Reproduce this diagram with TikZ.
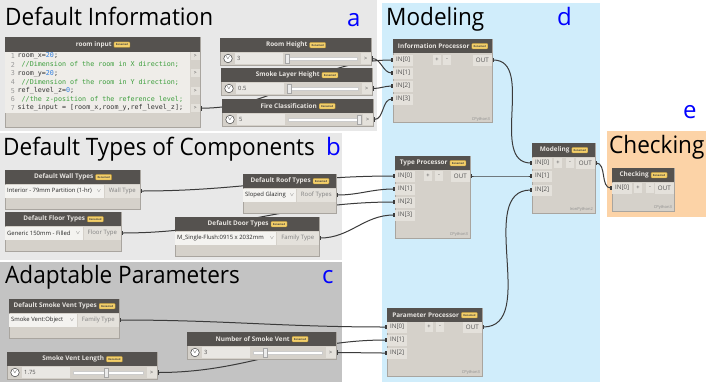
\documentclass[tikz,border=0pt]{standalone}
\usepackage{fontspec}
\setmainfont{Open Sans}
\newfontfamily\codefont{DejaVu Sans Mono}
\newfontfamily\grpfont[FakeStretch=0.94]{Open Sans}
\usetikzlibrary{positioning,arrows.meta}

\definecolor{grpgray}{HTML}{E8E8E8}
\definecolor{grpdark}{HTML}{C3C3C3}
\definecolor{grpblue}{HTML}{D0EDFB}
\definecolor{grporange}{HTML}{FCD3A7}
\definecolor{nodehead}{HTML}{55524F}
\definecolor{nodebody}{HTML}{D5D1CA}
\definecolor{nodeedge}{HTML}{A9A59F}
\definecolor{headtxt}{HTML}{E8E5E1}
\definecolor{portbg}{HTML}{E4E1DB}
\definecolor{rowbg}{HTML}{E9E7E3}
\definecolor{selbg}{HTML}{F4F3F0}
\definecolor{codebg}{HTML}{EFEDE9}
\definecolor{porttxt}{HTML}{505050}
\definecolor{badge}{HTML}{F3CF6A}
\definecolor{badgeedge}{HTML}{B08A2C}
\definecolor{wirecol}{HTML}{3B3B3B}
\definecolor{codegreen}{HTML}{3C9E3C}
\definecolor{codeblue}{HTML}{2F7FE0}

\pgfdeclarelayer{groups}
\pgfdeclarelayer{wires}
\pgfsetlayers{groups,wires,main}

\tikzset{
  grptitle/.style={anchor=base west, inner sep=0pt, font=\grpfont\fontsize{24}{24}\selectfont},
  grpletter/.style={anchor=base west, inner sep=0pt, text=blue, font=\fontsize{24}{24}\selectfont},
  dynbody/.style={anchor=north west, draw=nodeedge, fill=nodebody, line width=0.5pt, inner sep=0pt},
  dynhead/.style={anchor=north west, fill=nodehead, minimum height=14, inner sep=0pt},
  headtext/.style={inner sep=0pt, xshift=-9pt, text=headtxt, font=\fontsize{6.4}{7}\selectfont\bfseries},
  renamed/.style={fill=badge, draw=badgeedge, line width=0.3pt, rounded corners=0.8pt, minimum width=16, minimum height=5.5, inner sep=0pt, text=black!75, font=\fontsize{2.6}{3}\selectfont\bfseries},
  inport/.style={anchor=west, fill=portbg, minimum width=20, minimum height=11, inner sep=0pt, text=porttxt, font=\fontsize{6.2}{6.5}\selectfont},
  outport/.style={inport, anchor=east, minimum width=19},
  pmbtn/.style={fill=portbg, minimum width=8, minimum height=10, inner sep=0pt, text=porttxt, font=\fontsize{5.8}{6}\selectfont},
  engine/.style={anchor=east, inner sep=0pt, text=black!45, font=\fontsize{4}{4}\selectfont},
  roundbtn/.style={circle, draw=black!75, fill=white, line width=0.5pt, minimum size=8.5, inner sep=0pt, font=\fontsize{5}{5}\selectfont},
  valuebox/.style={anchor=west, fill=rowbg, minimum height=11, inner sep=2pt, text width=44pt, align=left, text=porttxt, font=\fontsize{5.8}{6}\selectfont},
  track/.style={anchor=west, fill=white, draw=black!20, line width=0.3pt, minimum height=2.4, inner sep=0pt},
  knob/.style={fill=white!92!black, draw=black!35, line width=0.4pt, minimum width=4, minimum height=9, inner sep=0pt},
  sliderport/.style={anchor=east, fill=portbg, minimum width=10, minimum height=11, inner sep=0pt, text=porttxt, font=\fontsize{5.5}{6}\selectfont},
  selbox/.style={anchor=west, fill=selbg, minimum height=13, inner sep=0pt},
  seltext/.style={anchor=west, inner sep=0pt, text=black!85, font=\fontsize{5.9}{6.5}\selectfont},
  chevron/.style={inner sep=0pt, text=black!60, font=\fontsize{4}{4}\selectfont},
  outlabel/.style={anchor=east, fill=portbg, minimum height=13, inner sep=0pt, text=black!50, font=\fontsize{6}{6.5}\selectfont},
  codearea/.style={anchor=north west, fill=codebg, inner sep=0pt},
  codeline/.style={anchor=west, inner sep=0pt, text=black!80, font=\codefont\fontsize{6.7}{7}\selectfont},
  lineno/.style={anchor=east, inner sep=0pt, text=black!40, font=\codefont\fontsize{6.7}{7}\selectfont},
  codeport/.style={anchor=east, fill=portbg, minimum width=9, minimum height=8, inner sep=0pt, text=porttxt, font=\fontsize{5}{5}\selectfont},
  wire/.style={draw=wirecol, line width=1pt, out=0, in=180, {Rectangle[length=1.6pt,width=4.5pt]}-{Rectangle[length=1.6pt,width=4.5pt]}}
}

\begin{document}
\begin{tikzpicture}[x=1pt,y=-1pt]
\useasboundingbox (0,0) rectangle (706,389);

% groups
\begin{pgfonlayer}{groups}
\fill[white] (0,0) rectangle (706,389);
\fill[grpgray] (0,0) rectangle (377,131);
\fill[grpgray] (0,133) rectangle (342,260);
\fill[grpdark] (0,262) rectangle (342,382);
\fill[grpblue] (382,3) rectangle (600,382);
\fill[grporange] (607,131) rectangle (706,217);
\end{pgfonlayer}

\node[grptitle] (title-a) at (5,25) {Default Information};
\node[grpletter] (letter-a) at (347,26) {a};
\node[grptitle] (title-b) at (3,155) {Default Types of Components};
\node[grpletter] (letter-b) at (326,155) {b};
\node[grptitle] (title-c) at (5,283) {Adaptable Parameters};
\node[grpletter] (letter-c) at (322,283) {c};
\node[grptitle] (title-d) at (386,25) {Modeling};
\node[grpletter] (letter-d) at (557,25) {d};
\node[grptitle] (title-e) at (609,153) {Checking};
\node[grpletter] (letter-e) at (683,118) {e};

% room input (code block)
\node[dynbody, minimum width=195, minimum height=90] (room) at (5,37) {};
\node[dynhead, minimum width=195, minimum height=15] (room-h) at (5,37) {};
\node[headtext] (room-t) at (room-h.center) {room input};
\node[renamed, right=2pt of room-t] (room-r) {Renamed};
\node[codearea, minimum width=185, minimum height=61] (room-code) at (5,52) {};
\foreach \k in {1,...,7}
  \node[lineno] (room-no\k) at (15,{47.3+8.7*\k}) {\k};
\node[codeline] (room-l1) at (17.5,56) {room\_x=\textcolor{codeblue}{20};};
\node[codeline, text=codegreen] (room-l2) at (21.5,64.7) {//Dimension of the room in X direction;};
\node[codeline] (room-l3) at (17.5,73.4) {room\_y=\textcolor{codeblue}{20};};
\node[codeline, text=codegreen] (room-l4) at (21.5,82.1) {//Dimension of the room in Y direction;};
\node[codeline] (room-l5) at (17.5,90.8) {ref\_level\_z=\textcolor{codeblue}{0};};
\node[codeline, text=codegreen] (room-l6) at (21.5,99.5) {//the z-position of the reference level;};
\node[codeline] (room-l7) at (17.5,108.2) {site\_input = [room\_x,room\_y,ref\_level\_z];};
\foreach \k in {1,3,5,7}
  \node[codeport] (room-out\k) at (200,{47.3+8.7*\k}) {>};

% number sliders
\foreach \nm/\x/\y/\w/\ttl/\val/\kx in {
    rheight/220/38/151/Room Height/3/287,
    slayer/221/68/151/Smoke Layer Height/0.5/289,
    fclass/222/99/151/Fire Classification/5/359,
    vnumber/187/332/149/Number of Smoke Vent/3/265,
    vlength/7/352/150/Smoke Vent Length/1.75/106}{
  \node[dynbody, minimum width=\w, minimum height=27] (\nm) at (\x,\y) {};
  \node[dynhead, minimum width=\w] (\nm-h) at (\x,\y) {};
  \node[headtext] (\nm-t) at (\nm-h.center) {\ttl};
  \node[renamed, right=2pt of \nm-t] (\nm-r) {Renamed};
  \node[valuebox] (\nm-v) at (\x+15,\y+20.5) {\val};
  \node[roundbtn] (\nm-b) at (\x+8,\y+20.5) {$\vee$};
  \node[track, minimum width=\w-80] (\nm-s) at (\x+66,\y+20.5) {};
  \node[knob] (\nm-k) at (\kx,\y+20.5) {};
  \node[sliderport] (\nm-o) at (\x+\w,\y+20.5) {>};
}

% dropdowns
\foreach \nm/\x/\y/\w/\ttl/\stext/\chev/\ow/\olab in {
    wall/5/170/135/Default Wall Types/Interior - 79mm Partition (1-hr)/99/35/Wall Type,
    floor/5/212/116/Default Floor Types/Generic 150mm - Filled/78/37/Floor Type,
    roof/243/174/93/Default Roof Types/Sloped Glazing/292/39/Roof Types,
    door/175/217/144/Default Door Types/M\_Single-Flush:0915 x 2032mm/272/42/Family Type,
    vtype/9/299/110/Default Smoke Vent Types/Smoke Vent:Object/72/41/Family Type}{
  \node[dynbody, minimum width=\w, minimum height=39] (\nm) at (\x,\y) {};
  \node[dynhead, minimum width=\w] (\nm-h) at (\x,\y) {};
  \node[headtext] (\nm-t) at (\nm-h.center) {\ttl};
  \node[renamed, right=2pt of \nm-t] (\nm-r) {Renamed};
  \node[selbox, minimum width=\w-\ow-1] (\nm-s) at (\x,\y+21) {};
  \node[seltext] (\nm-x) at (\x+2,\y+21) {\stext};
  \node[chevron] (\nm-c) at (\chev,\y+21) {$\vee$};
  \node[outlabel, minimum width=\ow] (\nm-o) at (\x+\w,\y+21) {\olab};
}

% python nodes
\node[dynbody, minimum width=99, minimum height=83] (info) at (393,39) {};
\node[dynhead, minimum width=99] (info-h) at (393,39) {};
\node[headtext] (info-t) at (info-h.center) {Information Processor};
\node[renamed, right=2pt of info-t] (info-r) {Renamed};
\foreach \i/\yy in {0/60,1/73,2/86,3/99}
  \node[inport] (info-in\i) at (393,\yy) {IN[\i]};
\node[pmbtn] (info-plus) at (437,60) {+};
\node[pmbtn] (info-minus) at (447,60) {-};
\node[outport] (info-out) at (492,60) {OUT};
\node[engine] (info-eng) at (490,119) {CPython3};

\node[dynbody, minimum width=75, minimum height=82] (type) at (395,156) {};
\node[dynhead, minimum width=75] (type-h) at (395,156) {};
\node[headtext] (type-t) at (type-h.center) {Type Processor};
\node[renamed, right=2pt of type-t] (type-r) {Renamed};
\foreach \i/\yy in {0/176,1/189,2/202,3/215}
  \node[inport] (type-in\i) at (395,\yy) {IN[\i]};
\node[pmbtn] (type-plus) at (428,176) {+};
\node[pmbtn] (type-minus) at (439,176) {-};
\node[outport] (type-out) at (470,176) {OUT};
\node[engine] (type-eng) at (468,234) {CPython3};

\node[dynbody, minimum width=95, minimum height=68] (param) at (387,308) {};
\node[dynhead, minimum width=95] (param-h) at (387,308) {};
\node[headtext] (param-t) at (param-h.center) {Parameter Processor};
\node[renamed, right=2pt of param-t] (param-r) {Renamed};
\foreach \i/\yy in {0/327,1/340,2/353}
  \node[inport] (param-in\i) at (387,\yy) {IN[\i]};
\node[pmbtn] (param-plus) at (429,327) {+};
\node[pmbtn] (param-minus) at (440,327) {-};
\node[outport] (param-out) at (482,327) {OUT};
\node[engine] (param-eng) at (480,372) {CPython3};

\node[dynbody, minimum width=63, minimum height=70] (model) at (532,143) {};
\node[dynhead, minimum width=63] (model-h) at (532,143) {};
\node[headtext] (model-t) at (model-h.center) {Modeling};
\node[renamed, right=2pt of model-t] (model-r) {Renamed};
\foreach \i/\yy in {0/163,1/176,2/190}
  \node[inport] (model-in\i) at (532,\yy) {IN[\i]};
\node[pmbtn] (model-plus) at (558,163) {+};
\node[pmbtn] (model-minus) at (570,163) {-};
\node[outport] (model-out) at (595,163) {OUT};
\node[engine] (model-eng) at (593,209) {IronPython2};

\node[dynbody, minimum width=62, minimum height=43] (check) at (612,168) {};
\node[dynhead, minimum width=62] (check-h) at (612,168) {};
\node[headtext] (check-t) at (check-h.center) {Checking};
\node[renamed, right=2pt of check-t] (check-r) {Renamed};
\node[inport] (check-in0) at (612,188) {IN[0]};
\node[pmbtn] (check-plus) at (638,188) {+};
\node[pmbtn] (check-minus) at (650,188) {-};
\node[outport] (check-out) at (674,188) {OUT};
\node[engine] (check-eng) at (672,207) {CPython3};

% wires
\begin{pgfonlayer}{wires}
\draw[wire] (room-out7.east) to (info-in0.west);
\draw[wire] (rheight-o.east) to (info-in1.west);
\draw[wire] (slayer-o.east) to (info-in2.west);
\draw[wire] (fclass-o.east) to (info-in3.west);
\draw[wire] (wall-o.east) to (type-in0.west);
\draw[wire] (roof-o.east) to (type-in1.west);
\draw[wire] (floor-o.east) to (type-in2.west);
\draw[wire] (door-o.east) to (type-in3.west);
\draw[wire] (vtype-o.east) to (param-in0.west);
\draw[wire] (vlength-o.east) to (param-in1.west);
\draw[wire] (vnumber-o.east) to (param-in2.west);
\draw[wire] (info-out.east) to (model-in0.west);
\draw[wire] (type-out.east) to (model-in1.west);
\draw[wire] (param-out.east) to (model-in2.west);
\draw[wire] (model-out.east) to (check-in0.west);
\end{pgfonlayer}
\end{tikzpicture}
\end{document}
